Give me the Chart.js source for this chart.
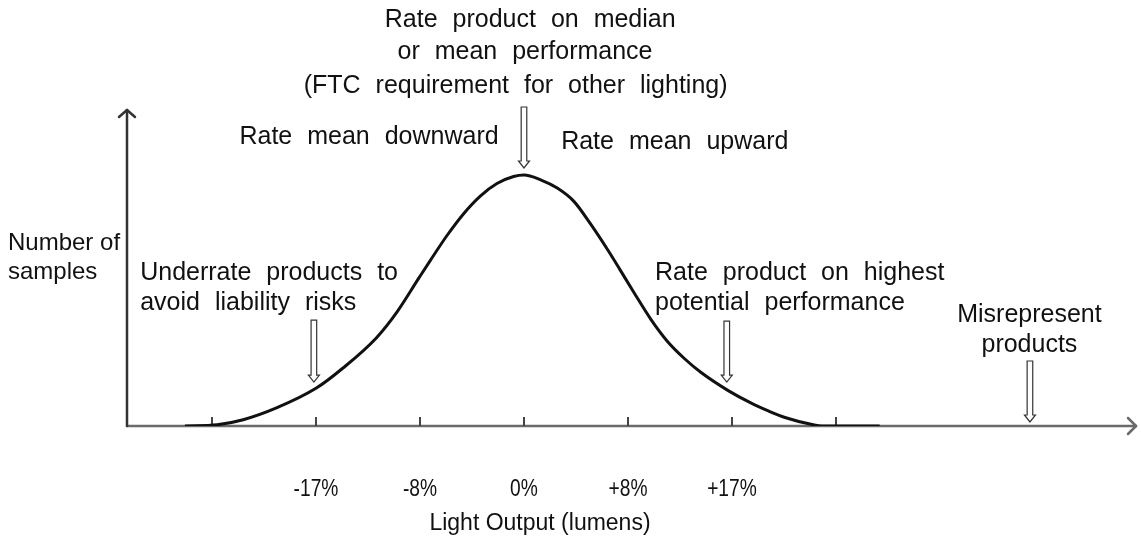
<!DOCTYPE html>
<html lang="en">
<head>
<meta charset="UTF-8">
<title>Light output rating</title>
<style>
  body { margin: 0; background: #fff; }
  #wrap { width: 1141px; height: 540px; }
</style>
</head>
<body>
<div id="wrap"><canvas id="chart"></canvas></div>
<script src="https://cdn.jsdelivr.net/npm/chart.js"></script>
<script>
  // x in tick steps (one step = one labelled division), y in % of the peak
  const positions = [-3.26, -2.95, -2.70, -2.38, -2.0, -1.74, -1.42, -1.22, -1.01, -0.90, -0.74, -0.58, -0.42, -0.26, -0.10, 0,
                     0.16, 0.32, 0.48, 0.64, 0.80, 0.92, 1.06, 1.22, 1.38, 1.55, 1.70, 1.96, 2.19, 2.35, 2.51, 2.76, 2.88, 3.42];
  const samples = [0, 0.5, 2.5, 7.2, 15.0, 23.1, 35.1, 45.5, 59.0, 66.0, 75.9, 84.6, 91.6, 96.6, 99.4, 100,
                   98.1, 94.8, 89.5, 80.5, 70.5, 62.5, 53.0, 42.5, 33.7, 26.6, 21.4, 14.2, 9.0, 6.0, 3.4, 0.7, 0, 0];
  const tickSteps = [-3, -2, -1, 0, 1, 2, 3];
  const tickLabels = ['', '-17%', '-8%', '0%', '+8%', '+17%', ''];
  const axisTitle = 'Light Output (lumens)';
  const yTitle = ['Number of', 'samples'];

  // callouts: text lines, anchored in axis units
  const notes = [
    { lines: ['Rate product on median'], x: 0.06, y: 161.8, align: 'center' },
    { lines: ['or mean performance'], x: 0.01, y: 149.0, align: 'center' },
    { lines: ['(FTC requirement for other lighting)'], x: -0.08, y: 135.5, align: 'center' },
    { lines: ['Rate mean downward'], x: -1.49, y: 115.1, align: 'center' },
    { lines: ['Rate mean upward'], x: 1.45, y: 113.1, align: 'center' },
    { lines: ['Underrate products to', 'avoid liability risks'], x: -3.69, y: 61.0, align: 'left' },
    { lines: ['Rate product on highest', 'potential performance'], x: 1.26, y: 61.0, align: 'left' },
    { lines: ['Misrepresent', 'products'], x: 4.86, y: 44.2, align: 'center' }
  ];
  // hollow arrows: x, top of shaft, tip
  const arrows = [
    { x: 0, top: 127.1, tip: 102.8 },
    { x: -2.02, top: 42.2, tip: 17.5 },
    { x: 1.95, top: 41.8, tip: 17.5 },
    { x: 4.865, top: 25.9, tip: 1.6 }
  ];

  const FONT = '"Liberation Sans", Arial, sans-serif';

  function seg(ctx, x1, y1, x2, y2) {
    ctx.beginPath(); ctx.moveTo(x1, y1); ctx.lineTo(x2, y2); ctx.stroke();
  }

  const sketch = {
    id: 'sketch',
    beforeDatasetsDraw(chart) {
      const { ctx, chartArea: a, scales: { x, y } } = chart;
      const y0 = y.getPixelForValue(0);
      ctx.save();
      ctx.lineCap = 'round';
      // x axis
      ctx.strokeStyle = '#6a6a6a'; ctx.lineWidth = 2.5;
      seg(ctx, a.left, y0, a.right - 2, y0);
      seg(ctx, a.right - 2, y0, a.right - 10, y0 - 8);
      seg(ctx, a.right - 2, y0, a.right - 10, y0 + 8);
      // y axis
      ctx.strokeStyle = '#333'; ctx.lineWidth = 2.5;
      seg(ctx, a.left, y0, a.left, a.top + 2);
      seg(ctx, a.left, a.top + 2, a.left - 8, a.top + 9);
      seg(ctx, a.left, a.top + 2, a.left + 8, a.top + 9);
      // tick marks
      ctx.strokeStyle = '#444'; ctx.lineWidth = 2; ctx.lineCap = 'butt';
      tickSteps.forEach(t => {
        const px = x.getPixelForValue(t);
        seg(ctx, px, y0, px, y0 - 9);
      });
      ctx.restore();
    },
    afterDatasetsDraw(chart) {
      const { ctx, scales: { x, y } } = chart;
      ctx.save();
      ctx.fillStyle = '#111';
      ctx.textBaseline = 'middle';
      if ('wordSpacing' in ctx) ctx.wordSpacing = '8px';
      ctx.font = '25px ' + FONT;
      notes.forEach(n => {
        ctx.textAlign = n.align;
        n.lines.forEach((t, i) => {
          ctx.fillText(t, x.getPixelForValue(n.x), y.getPixelForValue(n.y) + i * 30);
        });
      });
      if ('wordSpacing' in ctx) ctx.wordSpacing = '0px';
      // y title
      ctx.textAlign = 'left';
      ctx.font = '24px ' + FONT;
      yTitle.forEach((t, i) => ctx.fillText(t, 8, y.getPixelForValue(72.9) + i * 29));
      // tick labels (narrow)
      ctx.font = '24px ' + FONT;
      ctx.textAlign = 'center';
      tickSteps.forEach((t, i) => {
        if (!tickLabels[i]) return;
        ctx.save();
        ctx.translate(x.getPixelForValue(t), y.getPixelForValue(-25.1));
        ctx.scale(0.8, 1);
        ctx.fillText(tickLabels[i], 0, 0);
        ctx.restore();
      });
      ctx.font = '23px ' + FONT;
      ctx.fillText(axisTitle, x.getPixelForValue(0.154), y.getPixelForValue(-39.0));
      // hollow arrows
      ctx.strokeStyle = '#333'; ctx.lineWidth = 1.2; ctx.fillStyle = '#fff';
      arrows.forEach(ar => {
        const px = x.getPixelForValue(ar.x);
        const top = y.getPixelForValue(ar.top), tip = y.getPixelForValue(ar.tip);
        const neck = tip - 7;
        ctx.beginPath();
        ctx.moveTo(px - 2.8, top);
        ctx.lineTo(px + 2.8, top);
        ctx.lineTo(px + 2.8, neck);
        ctx.lineTo(px + 5.5, neck);
        ctx.lineTo(px, tip);
        ctx.lineTo(px - 5.5, neck);
        ctx.lineTo(px - 2.8, neck);
        ctx.closePath();
        ctx.fill(); ctx.stroke();
      });
      ctx.restore();
    }
  };

  new Chart(document.getElementById('chart'), {
    type: 'line',
    data: {
      datasets: [{
        data: positions.map((p, i) => ({ x: p, y: samples[i] })),
        borderColor: '#111',
        borderWidth: 3,
        pointRadius: 0,
        cubicInterpolationMode: 'monotone',
        fill: false
      }]
    },
    options: {
      responsive: true,
      maintainAspectRatio: false,
      animation: false,
      layout: { padding: { left: 127, right: 3, top: 108, bottom: 114 } },
      plugins: { legend: { display: false }, tooltip: { enabled: false } },
      scales: {
        x: { type: 'linear', min: -3.817, max: 5.904, display: false },
        y: { min: 0, max: 126.7, display: false }
      }
    },
    plugins: [sketch]
  });
</script>
</body>
</html>
